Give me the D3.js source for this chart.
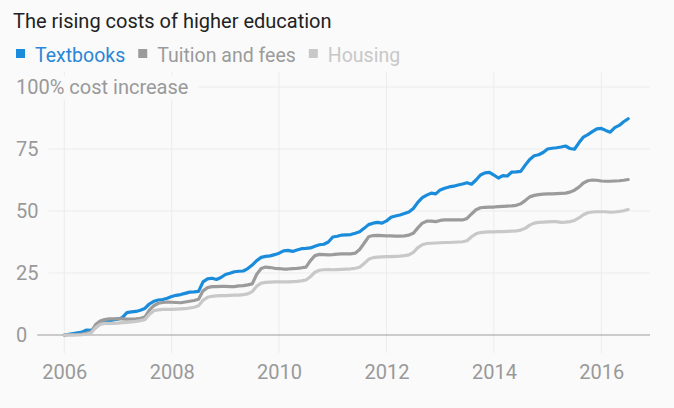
<!DOCTYPE html>
<html>
<head>
<meta charset="utf-8">
<script src="https://cdn.jsdelivr.net/npm/d3@7"></script>
<style>
  body { margin: 0; background: #fafafa; }
  svg { display: block; font-family: Roboto, sans-serif; }
</style>
</head>
<body>
<svg class="canvas" width="674" height="408"></svg>
<script>
// monthly values, Jan 2006 .. Jul 2016 (% increase since Jan 2006)
const textbooks = [
  0, 0.3, 0.6, 0.9, 1.2, 2, 1.9, 3, 4.5, 5.3, 5.7, 6.1,
  6.4, 7.1, 9, 9.3, 9.5, 10, 10.7, 12.5, 13.6, 14.1, 14.3, 14.8,
  15.5, 16, 16.3, 16.8, 17.3, 17.4, 17.6, 21.4, 22.6, 22.9, 22.4, 23.2,
  24.4, 24.9, 25.5, 25.7, 25.8, 26.8, 28.2, 30, 31.3, 31.7, 31.9, 32.4,
  33, 33.9, 34.1, 33.7, 34.3, 34.8, 34.9, 35.1, 35.8, 36.4, 36.6, 37.5,
  39.5, 39.8, 40.3, 40.4, 40.5, 41, 41.6, 43, 44.5, 45.1, 45.4, 45.1,
  46, 47.5, 48, 48.4, 49, 49.6, 51, 53.5, 55.4, 56.4, 57.2, 56.9,
  58.5, 59.2, 59.7, 60, 60.5, 60.9, 61.4, 60.8, 62.5, 64.5, 65.4, 65.6,
  64.5, 63.3, 64.3, 64.1, 65.7, 65.8, 66, 68.5, 70.8, 72.3, 72.7, 73.6,
  75, 75.3, 75.5, 75.8, 76.2, 75.2, 74.9, 77.5, 79.8, 80.8, 82, 83.1,
  83.3, 82.5, 81.8, 83.6, 84.5, 86, 87.2
];
const tuition = [
  0, 0.1, 0.1, 0.2, 0.4, 0.8, 1.3, 4.2, 5.6, 6.2, 6.5, 6.5,
  6.6, 6.5, 6.4, 6.4, 6.5, 6.7, 7.2, 10, 11.8, 12.8, 13.1, 13.3,
  13.2, 13.1, 13, 13.3, 13.6, 13.9, 14.4, 17.8, 19.1, 19.5, 19.5, 19.6,
  19.6, 19.5, 19.5, 19.8, 19.9, 20.2, 20.6, 24.5, 26.8, 27.4, 27.2, 26.9,
  26.8, 26.6, 26.6, 26.8, 26.9, 27.1, 27.4, 30, 32, 32.5, 32.4, 32.3,
  32.4, 32.6, 32.7, 32.7, 32.7, 33, 34.5, 37, 39.6, 40.1, 40.2, 40.1,
  40, 40, 39.9, 39.9, 40, 40.3, 41, 43.2, 45.1, 45.9, 45.9, 45.7,
  46.2, 46.4, 46.4, 46.4, 46.4, 46.4, 47, 48.8, 50.5, 51.3, 51.5, 51.6,
  51.6, 51.8, 51.9, 52, 52.1, 52.3, 52.9, 54.2, 55.7, 56.3, 56.6, 56.8,
  56.9, 56.9, 57, 57.1, 57.2, 57.6, 58.4, 59.6, 61.3, 62.2, 62.5, 62.4,
  62.1, 62, 62, 62.1, 62.2, 62.4, 62.7
];
const housing = [
  0, 0, 0, 0, 0.1, 0.4, 0.8, 3, 4.3, 4.7, 4.7, 4.7,
  4.8, 5, 5.1, 5.3, 5.5, 5.8, 6.2, 8.3, 9.8, 10.1, 10.3, 10.3,
  10.3, 10.4, 10.5, 10.6, 10.9, 11.2, 11.8, 14, 15.2, 15.6, 15.8, 15.9,
  15.9, 16, 16.1, 16.1, 16.3, 16.6, 17.5, 19.7, 20.9, 21.2, 21.3, 21.4,
  21.4, 21.4, 21.4, 21.5, 21.6, 21.8, 22.2, 23.5, 25.3, 26.1, 26.3, 26.4,
  26.3, 26.4, 26.5, 26.6, 26.7, 26.9, 27.3, 28.8, 30.5, 31.2, 31.4, 31.5,
  31.6, 31.6, 31.7, 31.8, 32, 32.3, 33.3, 35.2, 36.4, 36.9, 37, 37.1,
  37.2, 37.3, 37.3, 37.4, 37.5, 37.6, 38, 39.6, 40.8, 41.3, 41.5, 41.6,
  41.6, 41.7, 41.7, 41.8, 41.9, 42, 42.3, 43, 44.3, 45.1, 45.4, 45.5,
  45.6, 45.7, 45.7, 45.4, 45.5, 45.7, 46.2, 47.2, 48.5, 49.3, 49.6, 49.7,
  49.7, 49.7, 49.5, 49.6, 49.8, 50.1, 50.6
];
const seriesNames = ['Textbooks', 'Tuition and fees', 'Housing'];
const seriesColors = ['#1a8cdb', '#9b9b9b', '#c8c8c8'];
const xTicks = [2006, 2008, 2010, 2012, 2014, 2016];
const yTicks = [0, 25, 50, 75, 100];

// months as decimal years starting Jan 2006
const months = textbooks.map((_, i) => 2006 + i / 12);

const svg = d3.select('.canvas');
const bg = '#fafafa';

const xScale = d3.scaleLinear().domain([2005.417, 2016.907]).range([33, 650]);
const yScale = d3.scaleLinear().domain([0, 100]).range([335, 87]);

// title
svg.append('text')
  .attr('x', 13).attr('y', 28)
  .style('font-size', '20px')
  .attr('fill', '#222')
  .text('The rising costs of higher education');

// legend
let lx = 16;
seriesNames.forEach((name, i) => {
  svg.append('rect')
    .attr('x', lx).attr('y', 49)
    .attr('width', 9).attr('height', 9)
    .attr('fill', seriesColors[i]);
  const t = svg.append('text')
    .attr('x', lx + 19).attr('y', 62)
    .style('font-size', '19.5px')
    .attr('fill', i === 0 ? '#2a86d6' : seriesColors[i])
    .text(name);
  lx += 19 + t.node().getComputedTextLength() + 13;
});

// vertical grid
svg.append('g')
  .selectAll('line')
  .data(xTicks)
  .enter()
  .append('line')
  .attr('x1', (d) => xScale(d)).attr('x2', (d) => xScale(d))
  .attr('y1', 72).attr('y2', 353)
  .attr('stroke', '#ececec');

// horizontal grid
svg.append('g')
  .selectAll('line')
  .data(yTicks)
  .enter()
  .append('line')
  .attr('x1', 33).attr('x2', 650)
  .attr('y1', (d) => yScale(d)).attr('y2', (d) => yScale(d))
  .attr('stroke', (d) => (d === 0 ? '#9b9b9b' : '#ececec'));

// y labels
yTicks.forEach((d) => {
  const t = svg.append('text')
    .attr('x', 16).attr('y', yScale(d))
    .attr('dy', '0.36em')
    .style('font-size', '20px')
    .attr('fill', '#999')
    .text(d === 100 ? '100% cost increase' : d);
  const b = t.node().getBBox();
  svg.insert('rect', () => t.node())
    .attr('x', b.x - 2).attr('y', b.y)
    .attr('width', b.width + 12).attr('height', b.height)
    .attr('fill', bg);
});

// x labels
const xAxis = d3.axisBottom(xScale).tickValues(xTicks).tickFormat((d) => d).tickSize(0);
const gx = svg.append('g')
  .attr('transform', 'translate(0, 365)')
  .call(xAxis);
gx.select('.domain').remove();
gx.selectAll('text')
  .style('font-size', '20px')
  .style('font-family', 'Roboto, sans-serif')
  .attr('fill', '#999')
  .attr('dy', '0.71em')
  .attr('y', 0);

// lines
const line = d3.line()
  .x((d, i) => xScale(months[i]))
  .y((d) => yScale(d));

[textbooks, tuition, housing].forEach((values, i) => {
  svg.append('path')
    .datum(values)
    .attr('d', line)
    .attr('fill', 'none')
    .attr('stroke', seriesColors[i])
    .attr('stroke-width', 3.2)
    .attr('stroke-linejoin', 'round')
    .attr('stroke-linecap', 'round');
});
</script>
</body>
</html>
